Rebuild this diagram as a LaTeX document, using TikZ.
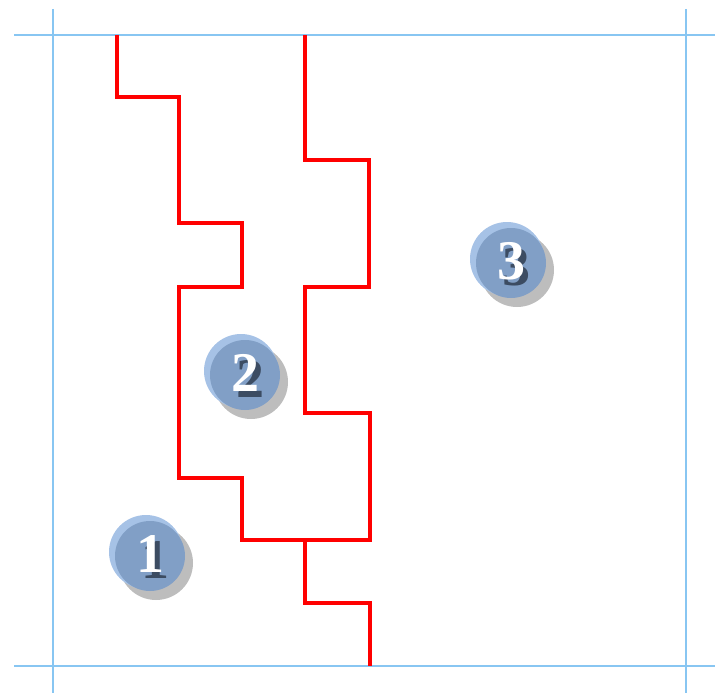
\documentclass[tikz,border=0pt]{standalone}
\usepackage{fontspec}
\setmainfont{Liberation Serif}
\usetikzlibrary{calc}
\definecolor{gridblue}{HTML}{88C6F2}
\definecolor{badgelight}{HTML}{A6C2E6}
\definecolor{badgemain}{HTML}{819FC6}
\definecolor{badgeshade}{HTML}{BDBDBD}
\definecolor{digitshade}{HTML}{3C4C62}
\tikzset{
  gridline/.style={gridblue, line width=2.4pt},
  wall/.style={red, line width=4.5pt, line join=miter},
  badgetext/.style={font=\bfseries\fontsize{56}{56}\selectfont, inner sep=0pt, text=white},
}
% digit with a dark drop shadow behind it
\newcommand{\shadedigit}[1]{%
  \makebox[0pt][l]{\hspace{5pt}\raisebox{-6pt}{\textcolor{digitshade}{#1}}}#1}
\newcommand{\badge}[3]{%
  \fill[badgeshade] ($(#1)+(6,7)$) circle[radius=37];
  \fill[badgelight] ($(#1)+(-4,-4)$) circle[radius=37];
  \fill[badgemain] (#1) circle[radius=35];
  \node[badgetext] (#2) at ($(#1)+(0,1)$) {\shadedigit{#3}};
}
\begin{document}
\begin{tikzpicture}[x=1pt, y=-1pt]
\useasboundingbox (0,0) rectangle (715,693);
% frame lines
\draw[gridline] (14,35) -- (715,35);
\draw[gridline] (14,666) -- (715,666);
\draw[gridline] (53,9) -- (53,693);
\draw[gridline] (686,9) -- (686,693);
% partitions
\coordinate (atop) at (117,35);
\coordinate (btop) at (305,35);
\coordinate (fork) at (305,540);
\coordinate (cbot) at (370,666);
\draw[wall] (atop) -- (117,97) -- (179,97) -- (179,223) -- (242,223) -- (242,287)
  -- (179,287) -- (179,478) -- (242,478) -- (242,540) -- (370,540) -- (370,413)
  -- (305,413) -- (305,287) -- (369,287) -- (369,160) -- (305,160) -- (btop);
\draw[wall] (fork) -- (305,603) -- (370,603) -- (cbot);
% numbered zones
\badge{150,556}{one}{1}
\badge{245,375}{two}{2}
\badge{511,263}{three}{3}
\end{tikzpicture}
\end{document}
